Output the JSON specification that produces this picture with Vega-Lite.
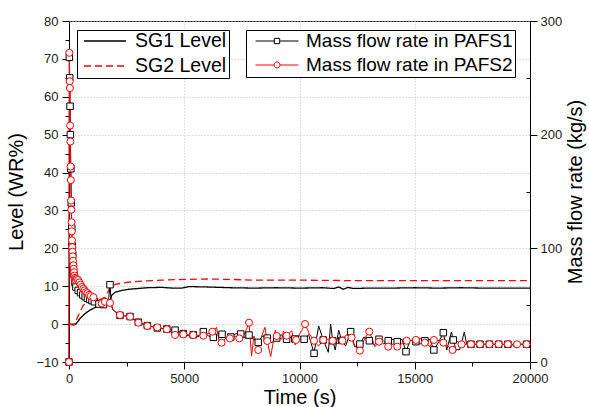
{
  "$schema": "https://vega.github.io/schema/vega-lite/v6.json",
  "width": 461,
  "height": 341,
  "autosize": {"type": "none"},
  "padding": {"left": 69, "top": 21, "right": 59, "bottom": 45},
  "background": "white",
  "config": {
    "view": {"stroke": "black", "strokeWidth": 1},
    "font": "Liberation Sans",
    "axis": {
      "labelFont": "Liberation Sans", "titleFont": "Liberation Sans",
      "labelFontSize": 13, "titleFontSize": 20, "titleFontWeight": "normal",
      "labelColor": "#222", "titleColor": "black",
      "domainColor": "black", "tickColor": "black", "domainWidth": 1, "tickWidth": 1,
      "gridColor": "#c0c0c0", "gridDash": [1, 2], "labelOverlap": false, "labelFlush": false
    },
    "legend": {
      "labelFont": "Liberation Sans", "labelFontSize": 19.5, "labelColor": "black", "labelLimit": 400,
      "strokeColor": "black", "fillColor": "white", "padding": 2, "orient": "none"
    }
  },
  "datasets": {
    "levels": [
      {"t": 0, "level": 0, "sg": "SG1 Level"}, {"t": 300, "level": 0, "sg": "SG1 Level"},
      {"t": 480, "level": 1.5, "sg": "SG1 Level"}, {"t": 700, "level": 2.8, "sg": "SG1 Level"},
      {"t": 910, "level": 3.7, "sg": "SG1 Level"}, {"t": 1100, "level": 4.3, "sg": "SG1 Level"},
      {"t": 1345, "level": 4.9, "sg": "SG1 Level"}, {"t": 1550, "level": 5.2, "sg": "SG1 Level"},
      {"t": 1750, "level": 5.4, "sg": "SG1 Level"}, {"t": 1850, "level": 7.6, "sg": "SG1 Level"},
      {"t": 2000, "level": 8.4, "sg": "SG1 Level"}, {"t": 2300, "level": 8.9, "sg": "SG1 Level"},
      {"t": 2600, "level": 9.2, "sg": "SG1 Level"}, {"t": 3000, "level": 9.4, "sg": "SG1 Level"},
      {"t": 3400, "level": 9.6, "sg": "SG1 Level"}, {"t": 4000, "level": 9.7, "sg": "SG1 Level"},
      {"t": 4500, "level": 9.5, "sg": "SG1 Level"}, {"t": 4900, "level": 9.5, "sg": "SG1 Level"},
      {"t": 5200, "level": 9.9, "sg": "SG1 Level"}, {"t": 6000, "level": 9.8, "sg": "SG1 Level"},
      {"t": 7000, "level": 9.6, "sg": "SG1 Level"}, {"t": 8000, "level": 9.5, "sg": "SG1 Level"},
      {"t": 9000, "level": 9.6, "sg": "SG1 Level"}, {"t": 10000, "level": 9.5, "sg": "SG1 Level"},
      {"t": 11000, "level": 9.6, "sg": "SG1 Level"}, {"t": 11500, "level": 9.4, "sg": "SG1 Level"},
      {"t": 11700, "level": 9.8, "sg": "SG1 Level"}, {"t": 11900, "level": 9.2, "sg": "SG1 Level"},
      {"t": 12100, "level": 9.7, "sg": "SG1 Level"}, {"t": 12300, "level": 9.4, "sg": "SG1 Level"},
      {"t": 13000, "level": 9.5, "sg": "SG1 Level"}, {"t": 14000, "level": 9.5, "sg": "SG1 Level"},
      {"t": 15000, "level": 9.6, "sg": "SG1 Level"}, {"t": 16000, "level": 9.5, "sg": "SG1 Level"},
      {"t": 17000, "level": 9.6, "sg": "SG1 Level"}, {"t": 18000, "level": 9.5, "sg": "SG1 Level"},
      {"t": 19000, "level": 9.5, "sg": "SG1 Level"}, {"t": 20000, "level": 9.5, "sg": "SG1 Level"},
      {"t": 0, "level": 0, "sg": "SG2 Level"}, {"t": 220, "level": -0.3, "sg": "SG2 Level"},
      {"t": 400, "level": 2.2, "sg": "SG2 Level"}, {"t": 620, "level": 5.0, "sg": "SG2 Level"},
      {"t": 770, "level": 5.5, "sg": "SG2 Level"}, {"t": 1000, "level": 6.0, "sg": "SG2 Level"},
      {"t": 1345, "level": 6.5, "sg": "SG2 Level"}, {"t": 1600, "level": 7.2, "sg": "SG2 Level"},
      {"t": 1780, "level": 9.8, "sg": "SG2 Level"}, {"t": 2000, "level": 10.5, "sg": "SG2 Level"},
      {"t": 2500, "level": 11.0, "sg": "SG2 Level"}, {"t": 3000, "level": 11.3, "sg": "SG2 Level"},
      {"t": 4000, "level": 11.6, "sg": "SG2 Level"}, {"t": 5000, "level": 11.8, "sg": "SG2 Level"},
      {"t": 6000, "level": 11.9, "sg": "SG2 Level"}, {"t": 7000, "level": 11.8, "sg": "SG2 Level"},
      {"t": 8000, "level": 11.6, "sg": "SG2 Level"}, {"t": 10000, "level": 11.6, "sg": "SG2 Level"},
      {"t": 12000, "level": 11.5, "sg": "SG2 Level"}, {"t": 14000, "level": 11.5, "sg": "SG2 Level"},
      {"t": 16000, "level": 11.5, "sg": "SG2 Level"}, {"t": 18000, "level": 11.5, "sg": "SG2 Level"},
      {"t": 20000, "level": 11.5, "sg": "SG2 Level"}
    ],
    "flow": [
      {"t": 0, "flow": 0, "series": "Mass flow rate in PAFS1"},
      {"t": 15, "flow": 268, "series": "Mass flow rate in PAFS1"},
      {"t": 30, "flow": 250, "series": "Mass flow rate in PAFS1"},
      {"t": 45, "flow": 225, "series": "Mass flow rate in PAFS1"},
      {"t": 60, "flow": 200, "series": "Mass flow rate in PAFS1"},
      {"t": 80, "flow": 170, "series": "Mass flow rate in PAFS1"},
      {"t": 100, "flow": 140, "series": "Mass flow rate in PAFS1"},
      {"t": 120, "flow": 118, "series": "Mass flow rate in PAFS1"},
      {"t": 140, "flow": 102, "series": "Mass flow rate in PAFS1"},
      {"t": 160, "flow": 94, "series": "Mass flow rate in PAFS1"},
      {"t": 190, "flow": 84, "series": "Mass flow rate in PAFS1"},
      {"t": 220, "flow": 77, "series": "Mass flow rate in PAFS1"},
      {"t": 260, "flow": 70, "series": "Mass flow rate in PAFS1"},
      {"t": 300, "flow": 66, "series": "Mass flow rate in PAFS1"},
      {"t": 400, "flow": 63, "series": "Mass flow rate in PAFS1"},
      {"t": 500, "flow": 61, "series": "Mass flow rate in PAFS1"},
      {"t": 600, "flow": 59, "series": "Mass flow rate in PAFS1"},
      {"t": 700, "flow": 57.5, "series": "Mass flow rate in PAFS1"},
      {"t": 800, "flow": 56, "series": "Mass flow rate in PAFS1"},
      {"t": 900, "flow": 55, "series": "Mass flow rate in PAFS1"},
      {"t": 1000, "flow": 54, "series": "Mass flow rate in PAFS1"},
      {"t": 1100, "flow": 53, "series": "Mass flow rate in PAFS1"},
      {"t": 1300, "flow": 51, "series": "Mass flow rate in PAFS1"},
      {"t": 1500, "flow": 50.5, "series": "Mass flow rate in PAFS1"},
      {"t": 1700, "flow": 51, "series": "Mass flow rate in PAFS1"},
      {"t": 1780, "flow": 68, "series": "Mass flow rate in PAFS1"},
      {"t": 1830, "flow": 52, "series": "Mass flow rate in PAFS1"},
      {"t": 1900, "flow": 46, "series": "Mass flow rate in PAFS1"},
      {"t": 2210, "flow": 41, "series": "Mass flow rate in PAFS1"},
      {"t": 2650, "flow": 40, "series": "Mass flow rate in PAFS1"},
      {"t": 3010, "flow": 35, "series": "Mass flow rate in PAFS1"},
      {"t": 3400, "flow": 32, "series": "Mass flow rate in PAFS1"},
      {"t": 3830, "flow": 30, "series": "Mass flow rate in PAFS1"},
      {"t": 4240, "flow": 29, "series": "Mass flow rate in PAFS1"},
      {"t": 4600, "flow": 28, "series": "Mass flow rate in PAFS1"},
      {"t": 4960, "flow": 25, "series": "Mass flow rate in PAFS1"},
      {"t": 5200, "flow": 23, "series": "Mass flow rate in PAFS1"},
      {"t": 5390, "flow": 24, "series": "Mass flow rate in PAFS1"},
      {"t": 5600, "flow": 22, "series": "Mass flow rate in PAFS1"},
      {"t": 5830, "flow": 26.7, "series": "Mass flow rate in PAFS1"},
      {"t": 6050, "flow": 23, "series": "Mass flow rate in PAFS1"},
      {"t": 6260, "flow": 21.7, "series": "Mass flow rate in PAFS1"},
      {"t": 6450, "flow": 25, "series": "Mass flow rate in PAFS1"},
      {"t": 6640, "flow": 24.4, "series": "Mass flow rate in PAFS1"},
      {"t": 6820, "flow": 20, "series": "Mass flow rate in PAFS1"},
      {"t": 7020, "flow": 22, "series": "Mass flow rate in PAFS1"},
      {"t": 7250, "flow": 25, "series": "Mass flow rate in PAFS1"},
      {"t": 7450, "flow": 24.6, "series": "Mass flow rate in PAFS1"},
      {"t": 7650, "flow": 21, "series": "Mass flow rate in PAFS1"},
      {"t": 7810, "flow": 23.7, "series": "Mass flow rate in PAFS1"},
      {"t": 8000, "flow": 20, "series": "Mass flow rate in PAFS1"},
      {"t": 8210, "flow": 17.3, "series": "Mass flow rate in PAFS1"},
      {"t": 8400, "flow": 23, "series": "Mass flow rate in PAFS1"},
      {"t": 8600, "flow": 21, "series": "Mass flow rate in PAFS1"},
      {"t": 8800, "flow": 17, "series": "Mass flow rate in PAFS1"},
      {"t": 9010, "flow": 21.1, "series": "Mass flow rate in PAFS1"},
      {"t": 9200, "flow": 24, "series": "Mass flow rate in PAFS1"},
      {"t": 9440, "flow": 20, "series": "Mass flow rate in PAFS1"},
      {"t": 9650, "flow": 22, "series": "Mass flow rate in PAFS1"},
      {"t": 9800, "flow": 20.2, "series": "Mass flow rate in PAFS1"},
      {"t": 10000, "flow": 23, "series": "Mass flow rate in PAFS1"},
      {"t": 10200, "flow": 20, "series": "Mass flow rate in PAFS1"},
      {"t": 10400, "flow": 24, "series": "Mass flow rate in PAFS1"},
      {"t": 10630, "flow": 7.6, "series": "Mass flow rate in PAFS1"},
      {"t": 10830, "flow": 31.7, "series": "Mass flow rate in PAFS1"},
      {"t": 11030, "flow": 19.4, "series": "Mass flow rate in PAFS1"},
      {"t": 11250, "flow": 8.5, "series": "Mass flow rate in PAFS1"},
      {"t": 11350, "flow": 33.4, "series": "Mass flow rate in PAFS1"},
      {"t": 11440, "flow": 18.7, "series": "Mass flow rate in PAFS1"},
      {"t": 11550, "flow": 10.6, "series": "Mass flow rate in PAFS1"},
      {"t": 11700, "flow": 28, "series": "Mass flow rate in PAFS1"},
      {"t": 11830, "flow": 19, "series": "Mass flow rate in PAFS1"},
      {"t": 12000, "flow": 14, "series": "Mass flow rate in PAFS1"},
      {"t": 12220, "flow": 26.7, "series": "Mass flow rate in PAFS1"},
      {"t": 12390, "flow": 13.5, "series": "Mass flow rate in PAFS1"},
      {"t": 12620, "flow": 15.8, "series": "Mass flow rate in PAFS1"},
      {"t": 12800, "flow": 22, "series": "Mass flow rate in PAFS1"},
      {"t": 13030, "flow": 18.7, "series": "Mass flow rate in PAFS1"},
      {"t": 13250, "flow": 15, "series": "Mass flow rate in PAFS1"},
      {"t": 13450, "flow": 20, "series": "Mass flow rate in PAFS1"},
      {"t": 13650, "flow": 16, "series": "Mass flow rate in PAFS1"},
      {"t": 13850, "flow": 18.7, "series": "Mass flow rate in PAFS1"},
      {"t": 14050, "flow": 20, "series": "Mass flow rate in PAFS1"},
      {"t": 14240, "flow": 17.9, "series": "Mass flow rate in PAFS1"},
      {"t": 14450, "flow": 20, "series": "Mass flow rate in PAFS1"},
      {"t": 14620, "flow": 9.1, "series": "Mass flow rate in PAFS1"},
      {"t": 14800, "flow": 19, "series": "Mass flow rate in PAFS1"},
      {"t": 15050, "flow": 17.9, "series": "Mass flow rate in PAFS1"},
      {"t": 15250, "flow": 16, "series": "Mass flow rate in PAFS1"},
      {"t": 15440, "flow": 18.7, "series": "Mass flow rate in PAFS1"},
      {"t": 15650, "flow": 20, "series": "Mass flow rate in PAFS1"},
      {"t": 15830, "flow": 10.6, "series": "Mass flow rate in PAFS1"},
      {"t": 16050, "flow": 18, "series": "Mass flow rate in PAFS1"},
      {"t": 16240, "flow": 25.8, "series": "Mass flow rate in PAFS1"},
      {"t": 16390, "flow": 10.6, "series": "Mass flow rate in PAFS1"},
      {"t": 16590, "flow": 26.4, "series": "Mass flow rate in PAFS1"},
      {"t": 16670, "flow": 19.4, "series": "Mass flow rate in PAFS1"},
      {"t": 16790, "flow": 10.6, "series": "Mass flow rate in PAFS1"},
      {"t": 16950, "flow": 11, "series": "Mass flow rate in PAFS1"},
      {"t": 17150, "flow": 26.4, "series": "Mass flow rate in PAFS1"},
      {"t": 17250, "flow": 15.5, "series": "Mass flow rate in PAFS1"},
      {"t": 17440, "flow": 15.6, "series": "Mass flow rate in PAFS1"},
      {"t": 19200, "flow": 15.6, "series": "Mass flow rate in PAFS1"},
      {"t": 19400, "flow": 12.3, "series": "Mass flow rate in PAFS1"},
      {"t": 19550, "flow": 15.6, "series": "Mass flow rate in PAFS1"},
      {"t": 20000, "flow": 15.6, "series": "Mass flow rate in PAFS1"},
      {"t": 0, "flow": 0, "series": "Mass flow rate in PAFS2"},
      {"t": 15, "flow": 272, "series": "Mass flow rate in PAFS2"},
      {"t": 30, "flow": 247, "series": "Mass flow rate in PAFS2"},
      {"t": 40, "flow": 241, "series": "Mass flow rate in PAFS2"},
      {"t": 50, "flow": 208, "series": "Mass flow rate in PAFS2"},
      {"t": 60, "flow": 194, "series": "Mass flow rate in PAFS2"},
      {"t": 70, "flow": 172, "series": "Mass flow rate in PAFS2"},
      {"t": 80, "flow": 160, "series": "Mass flow rate in PAFS2"},
      {"t": 90, "flow": 142, "series": "Mass flow rate in PAFS2"},
      {"t": 100, "flow": 134, "series": "Mass flow rate in PAFS2"},
      {"t": 110, "flow": 123, "series": "Mass flow rate in PAFS2"},
      {"t": 120, "flow": 115, "series": "Mass flow rate in PAFS2"},
      {"t": 130, "flow": 107, "series": "Mass flow rate in PAFS2"},
      {"t": 140, "flow": 101, "series": "Mass flow rate in PAFS2"},
      {"t": 150, "flow": 97, "series": "Mass flow rate in PAFS2"},
      {"t": 160, "flow": 93, "series": "Mass flow rate in PAFS2"},
      {"t": 175, "flow": 89, "series": "Mass flow rate in PAFS2"},
      {"t": 190, "flow": 85, "series": "Mass flow rate in PAFS2"},
      {"t": 205, "flow": 82, "series": "Mass flow rate in PAFS2"},
      {"t": 220, "flow": 79, "series": "Mass flow rate in PAFS2"},
      {"t": 240, "flow": 76, "series": "Mass flow rate in PAFS2"},
      {"t": 260, "flow": 74, "series": "Mass flow rate in PAFS2"},
      {"t": 280, "flow": 73, "series": "Mass flow rate in PAFS2"},
      {"t": 300, "flow": 72, "series": "Mass flow rate in PAFS2"},
      {"t": 350, "flow": 73, "series": "Mass flow rate in PAFS2"},
      {"t": 400, "flow": 72, "series": "Mass flow rate in PAFS2"},
      {"t": 450, "flow": 70, "series": "Mass flow rate in PAFS2"},
      {"t": 500, "flow": 68, "series": "Mass flow rate in PAFS2"},
      {"t": 560, "flow": 66, "series": "Mass flow rate in PAFS2"},
      {"t": 620, "flow": 64.5, "series": "Mass flow rate in PAFS2"},
      {"t": 680, "flow": 63, "series": "Mass flow rate in PAFS2"},
      {"t": 740, "flow": 61.5, "series": "Mass flow rate in PAFS2"},
      {"t": 800, "flow": 60.5, "series": "Mass flow rate in PAFS2"},
      {"t": 870, "flow": 59, "series": "Mass flow rate in PAFS2"},
      {"t": 940, "flow": 58, "series": "Mass flow rate in PAFS2"},
      {"t": 1000, "flow": 57.5, "series": "Mass flow rate in PAFS2"},
      {"t": 1060, "flow": 57, "series": "Mass flow rate in PAFS2"},
      {"t": 1200, "flow": 54, "series": "Mass flow rate in PAFS2"},
      {"t": 1420, "flow": 51.6, "series": "Mass flow rate in PAFS2"},
      {"t": 1560, "flow": 53, "series": "Mass flow rate in PAFS2"},
      {"t": 1700, "flow": 52, "series": "Mass flow rate in PAFS2"},
      {"t": 1780, "flow": 52, "series": "Mass flow rate in PAFS2"},
      {"t": 1900, "flow": 46, "series": "Mass flow rate in PAFS2"},
      {"t": 2210, "flow": 41.3, "series": "Mass flow rate in PAFS2"},
      {"t": 2650, "flow": 39.9, "series": "Mass flow rate in PAFS2"},
      {"t": 3010, "flow": 34.6, "series": "Mass flow rate in PAFS2"},
      {"t": 3400, "flow": 31.7, "series": "Mass flow rate in PAFS2"},
      {"t": 3830, "flow": 30.5, "series": "Mass flow rate in PAFS2"},
      {"t": 4240, "flow": 28.8, "series": "Mass flow rate in PAFS2"},
      {"t": 4600, "flow": 23.8, "series": "Mass flow rate in PAFS2"},
      {"t": 4960, "flow": 24.3, "series": "Mass flow rate in PAFS2"},
      {"t": 5390, "flow": 23.7, "series": "Mass flow rate in PAFS2"},
      {"t": 5830, "flow": 23.1, "series": "Mass flow rate in PAFS2"},
      {"t": 6220, "flow": 26.7, "series": "Mass flow rate in PAFS2"},
      {"t": 6400, "flow": 30.5, "series": "Mass flow rate in PAFS2"},
      {"t": 6520, "flow": 17.9, "series": "Mass flow rate in PAFS2"},
      {"t": 6620, "flow": 17, "series": "Mass flow rate in PAFS2"},
      {"t": 6840, "flow": 21.7, "series": "Mass flow rate in PAFS2"},
      {"t": 6980, "flow": 20.8, "series": "Mass flow rate in PAFS2"},
      {"t": 7130, "flow": 23, "series": "Mass flow rate in PAFS2"},
      {"t": 7390, "flow": 20.8, "series": "Mass flow rate in PAFS2"},
      {"t": 7600, "flow": 24, "series": "Mass flow rate in PAFS2"},
      {"t": 7810, "flow": 34.6, "series": "Mass flow rate in PAFS2"},
      {"t": 7920, "flow": 5.3, "series": "Mass flow rate in PAFS2"},
      {"t": 8020, "flow": 22.9, "series": "Mass flow rate in PAFS2"},
      {"t": 8210, "flow": 10.6, "series": "Mass flow rate in PAFS2"},
      {"t": 8290, "flow": 19, "series": "Mass flow rate in PAFS2"},
      {"t": 8500, "flow": 30.5, "series": "Mass flow rate in PAFS2"},
      {"t": 8600, "flow": 18.5, "series": "Mass flow rate in PAFS2"},
      {"t": 8750, "flow": 4.7, "series": "Mass flow rate in PAFS2"},
      {"t": 8950, "flow": 28, "series": "Mass flow rate in PAFS2"},
      {"t": 9010, "flow": 22.9, "series": "Mass flow rate in PAFS2"},
      {"t": 9230, "flow": 20, "series": "Mass flow rate in PAFS2"},
      {"t": 9300, "flow": 27, "series": "Mass flow rate in PAFS2"},
      {"t": 9440, "flow": 23.1, "series": "Mass flow rate in PAFS2"},
      {"t": 9660, "flow": 27.5, "series": "Mass flow rate in PAFS2"},
      {"t": 9810, "flow": 15, "series": "Mass flow rate in PAFS2"},
      {"t": 9850, "flow": 19.4, "series": "Mass flow rate in PAFS2"},
      {"t": 10100, "flow": 27.8, "series": "Mass flow rate in PAFS2"},
      {"t": 10240, "flow": 33.4, "series": "Mass flow rate in PAFS2"},
      {"t": 10420, "flow": 25, "series": "Mass flow rate in PAFS2"},
      {"t": 10630, "flow": 18.7, "series": "Mass flow rate in PAFS2"},
      {"t": 10830, "flow": 14, "series": "Mass flow rate in PAFS2"},
      {"t": 11030, "flow": 19.4, "series": "Mass flow rate in PAFS2"},
      {"t": 11250, "flow": 20, "series": "Mass flow rate in PAFS2"},
      {"t": 11440, "flow": 18.7, "series": "Mass flow rate in PAFS2"},
      {"t": 11610, "flow": 16, "series": "Mass flow rate in PAFS2"},
      {"t": 11860, "flow": 18.7, "series": "Mass flow rate in PAFS2"},
      {"t": 12030, "flow": 24, "series": "Mass flow rate in PAFS2"},
      {"t": 12260, "flow": 21.4, "series": "Mass flow rate in PAFS2"},
      {"t": 12390, "flow": 14, "series": "Mass flow rate in PAFS2"},
      {"t": 12620, "flow": 10, "series": "Mass flow rate in PAFS2"},
      {"t": 12840, "flow": 21, "series": "Mass flow rate in PAFS2"},
      {"t": 13030, "flow": 26.7, "series": "Mass flow rate in PAFS2"},
      {"t": 13270, "flow": 13.5, "series": "Mass flow rate in PAFS2"},
      {"t": 13450, "flow": 17.9, "series": "Mass flow rate in PAFS2"},
      {"t": 13630, "flow": 19, "series": "Mass flow rate in PAFS2"},
      {"t": 13850, "flow": 13.5, "series": "Mass flow rate in PAFS2"},
      {"t": 14070, "flow": 16, "series": "Mass flow rate in PAFS2"},
      {"t": 14240, "flow": 13.5, "series": "Mass flow rate in PAFS2"},
      {"t": 14650, "flow": 18.7, "series": "Mass flow rate in PAFS2"},
      {"t": 14860, "flow": 19, "series": "Mass flow rate in PAFS2"},
      {"t": 15050, "flow": 19.4, "series": "Mass flow rate in PAFS2"},
      {"t": 15230, "flow": 21, "series": "Mass flow rate in PAFS2"},
      {"t": 15440, "flow": 17, "series": "Mass flow rate in PAFS2"},
      {"t": 15660, "flow": 13.5, "series": "Mass flow rate in PAFS2"},
      {"t": 15830, "flow": 19.4, "series": "Mass flow rate in PAFS2"},
      {"t": 16020, "flow": 19, "series": "Mass flow rate in PAFS2"},
      {"t": 16240, "flow": 17, "series": "Mass flow rate in PAFS2"},
      {"t": 16430, "flow": 14, "series": "Mass flow rate in PAFS2"},
      {"t": 16640, "flow": 10.6, "series": "Mass flow rate in PAFS2"},
      {"t": 16800, "flow": 19, "series": "Mass flow rate in PAFS2"},
      {"t": 17030, "flow": 15.5, "series": "Mass flow rate in PAFS2"},
      {"t": 17440, "flow": 15.6, "series": "Mass flow rate in PAFS2"},
      {"t": 20000, "flow": 15.6, "series": "Mass flow rate in PAFS2"}
    ],
    "markers": [
      {"t": 0, "flow": 0, "series": "Mass flow rate in PAFS1"},
      {"t": 15, "flow": 268, "series": "Mass flow rate in PAFS1"},
      {"t": 30, "flow": 250, "series": "Mass flow rate in PAFS1"},
      {"t": 45, "flow": 225, "series": "Mass flow rate in PAFS1"},
      {"t": 60, "flow": 200, "series": "Mass flow rate in PAFS1"},
      {"t": 80, "flow": 170, "series": "Mass flow rate in PAFS1"},
      {"t": 100, "flow": 140, "series": "Mass flow rate in PAFS1"},
      {"t": 120, "flow": 118, "series": "Mass flow rate in PAFS1"},
      {"t": 140, "flow": 102, "series": "Mass flow rate in PAFS1"},
      {"t": 160, "flow": 94, "series": "Mass flow rate in PAFS1"},
      {"t": 190, "flow": 84, "series": "Mass flow rate in PAFS1"},
      {"t": 220, "flow": 77, "series": "Mass flow rate in PAFS1"},
      {"t": 260, "flow": 70, "series": "Mass flow rate in PAFS1"},
      {"t": 300, "flow": 66, "series": "Mass flow rate in PAFS1"},
      {"t": 400, "flow": 63, "series": "Mass flow rate in PAFS1"},
      {"t": 500, "flow": 61, "series": "Mass flow rate in PAFS1"},
      {"t": 600, "flow": 59, "series": "Mass flow rate in PAFS1"},
      {"t": 700, "flow": 57.5, "series": "Mass flow rate in PAFS1"},
      {"t": 800, "flow": 56, "series": "Mass flow rate in PAFS1"},
      {"t": 900, "flow": 55, "series": "Mass flow rate in PAFS1"},
      {"t": 1000, "flow": 54, "series": "Mass flow rate in PAFS1"},
      {"t": 1100, "flow": 53, "series": "Mass flow rate in PAFS1"},
      {"t": 1300, "flow": 51, "series": "Mass flow rate in PAFS1"},
      {"t": 1500, "flow": 50.5, "series": "Mass flow rate in PAFS1"},
      {"t": 1780, "flow": 68, "series": "Mass flow rate in PAFS1"},
      {"t": 2210, "flow": 41, "series": "Mass flow rate in PAFS1"},
      {"t": 2650, "flow": 40, "series": "Mass flow rate in PAFS1"},
      {"t": 3010, "flow": 35, "series": "Mass flow rate in PAFS1"},
      {"t": 3400, "flow": 32, "series": "Mass flow rate in PAFS1"},
      {"t": 3830, "flow": 30, "series": "Mass flow rate in PAFS1"},
      {"t": 4240, "flow": 29, "series": "Mass flow rate in PAFS1"},
      {"t": 4600, "flow": 28, "series": "Mass flow rate in PAFS1"},
      {"t": 4960, "flow": 25, "series": "Mass flow rate in PAFS1"},
      {"t": 5390, "flow": 24, "series": "Mass flow rate in PAFS1"},
      {"t": 5830, "flow": 26.7, "series": "Mass flow rate in PAFS1"},
      {"t": 6260, "flow": 21.7, "series": "Mass flow rate in PAFS1"},
      {"t": 6640, "flow": 24.4, "series": "Mass flow rate in PAFS1"},
      {"t": 7020, "flow": 22, "series": "Mass flow rate in PAFS1"},
      {"t": 7450, "flow": 24.6, "series": "Mass flow rate in PAFS1"},
      {"t": 7810, "flow": 23.7, "series": "Mass flow rate in PAFS1"},
      {"t": 8210, "flow": 17.3, "series": "Mass flow rate in PAFS1"},
      {"t": 8600, "flow": 21, "series": "Mass flow rate in PAFS1"},
      {"t": 9010, "flow": 21.1, "series": "Mass flow rate in PAFS1"},
      {"t": 9440, "flow": 20, "series": "Mass flow rate in PAFS1"},
      {"t": 9800, "flow": 20.2, "series": "Mass flow rate in PAFS1"},
      {"t": 10200, "flow": 20, "series": "Mass flow rate in PAFS1"},
      {"t": 10630, "flow": 7.6, "series": "Mass flow rate in PAFS1"},
      {"t": 11030, "flow": 19.4, "series": "Mass flow rate in PAFS1"},
      {"t": 11440, "flow": 18.7, "series": "Mass flow rate in PAFS1"},
      {"t": 11830, "flow": 19, "series": "Mass flow rate in PAFS1"},
      {"t": 12220, "flow": 26.7, "series": "Mass flow rate in PAFS1"},
      {"t": 12620, "flow": 15.8, "series": "Mass flow rate in PAFS1"},
      {"t": 13030, "flow": 18.7, "series": "Mass flow rate in PAFS1"},
      {"t": 13450, "flow": 20, "series": "Mass flow rate in PAFS1"},
      {"t": 13850, "flow": 18.7, "series": "Mass flow rate in PAFS1"},
      {"t": 14240, "flow": 17.9, "series": "Mass flow rate in PAFS1"},
      {"t": 14620, "flow": 9.1, "series": "Mass flow rate in PAFS1"},
      {"t": 15050, "flow": 17.9, "series": "Mass flow rate in PAFS1"},
      {"t": 15440, "flow": 18.7, "series": "Mass flow rate in PAFS1"},
      {"t": 15830, "flow": 10.6, "series": "Mass flow rate in PAFS1"},
      {"t": 16240, "flow": 25.8, "series": "Mass flow rate in PAFS1"},
      {"t": 16670, "flow": 19.4, "series": "Mass flow rate in PAFS1"},
      {"t": 17440, "flow": 15.6, "series": "Mass flow rate in PAFS1"},
      {"t": 17830, "flow": 15.6, "series": "Mass flow rate in PAFS1"},
      {"t": 18240, "flow": 15.6, "series": "Mass flow rate in PAFS1"},
      {"t": 18640, "flow": 15.6, "series": "Mass flow rate in PAFS1"},
      {"t": 19040, "flow": 15.6, "series": "Mass flow rate in PAFS1"},
      {"t": 19850, "flow": 15.6, "series": "Mass flow rate in PAFS1"},
      {"t": 0, "flow": 0, "series": "Mass flow rate in PAFS2"},
      {"t": 15, "flow": 272, "series": "Mass flow rate in PAFS2"},
      {"t": 30, "flow": 247, "series": "Mass flow rate in PAFS2"},
      {"t": 40, "flow": 241, "series": "Mass flow rate in PAFS2"},
      {"t": 50, "flow": 208, "series": "Mass flow rate in PAFS2"},
      {"t": 60, "flow": 194, "series": "Mass flow rate in PAFS2"},
      {"t": 70, "flow": 172, "series": "Mass flow rate in PAFS2"},
      {"t": 80, "flow": 160, "series": "Mass flow rate in PAFS2"},
      {"t": 90, "flow": 142, "series": "Mass flow rate in PAFS2"},
      {"t": 100, "flow": 134, "series": "Mass flow rate in PAFS2"},
      {"t": 110, "flow": 123, "series": "Mass flow rate in PAFS2"},
      {"t": 120, "flow": 115, "series": "Mass flow rate in PAFS2"},
      {"t": 130, "flow": 107, "series": "Mass flow rate in PAFS2"},
      {"t": 140, "flow": 101, "series": "Mass flow rate in PAFS2"},
      {"t": 150, "flow": 97, "series": "Mass flow rate in PAFS2"},
      {"t": 160, "flow": 93, "series": "Mass flow rate in PAFS2"},
      {"t": 175, "flow": 89, "series": "Mass flow rate in PAFS2"},
      {"t": 190, "flow": 85, "series": "Mass flow rate in PAFS2"},
      {"t": 205, "flow": 82, "series": "Mass flow rate in PAFS2"},
      {"t": 220, "flow": 79, "series": "Mass flow rate in PAFS2"},
      {"t": 240, "flow": 76, "series": "Mass flow rate in PAFS2"},
      {"t": 260, "flow": 74, "series": "Mass flow rate in PAFS2"},
      {"t": 280, "flow": 73, "series": "Mass flow rate in PAFS2"},
      {"t": 300, "flow": 72, "series": "Mass flow rate in PAFS2"},
      {"t": 350, "flow": 73, "series": "Mass flow rate in PAFS2"},
      {"t": 400, "flow": 72, "series": "Mass flow rate in PAFS2"},
      {"t": 450, "flow": 70, "series": "Mass flow rate in PAFS2"},
      {"t": 500, "flow": 68, "series": "Mass flow rate in PAFS2"},
      {"t": 560, "flow": 66, "series": "Mass flow rate in PAFS2"},
      {"t": 620, "flow": 64.5, "series": "Mass flow rate in PAFS2"},
      {"t": 680, "flow": 63, "series": "Mass flow rate in PAFS2"},
      {"t": 740, "flow": 61.5, "series": "Mass flow rate in PAFS2"},
      {"t": 800, "flow": 60.5, "series": "Mass flow rate in PAFS2"},
      {"t": 870, "flow": 59, "series": "Mass flow rate in PAFS2"},
      {"t": 940, "flow": 58, "series": "Mass flow rate in PAFS2"},
      {"t": 1060, "flow": 57, "series": "Mass flow rate in PAFS2"},
      {"t": 1420, "flow": 51.6, "series": "Mass flow rate in PAFS2"},
      {"t": 1560, "flow": 53, "series": "Mass flow rate in PAFS2"},
      {"t": 1780, "flow": 52, "series": "Mass flow rate in PAFS2"},
      {"t": 2210, "flow": 41.3, "series": "Mass flow rate in PAFS2"},
      {"t": 2650, "flow": 39.9, "series": "Mass flow rate in PAFS2"},
      {"t": 3010, "flow": 34.6, "series": "Mass flow rate in PAFS2"},
      {"t": 3400, "flow": 31.7, "series": "Mass flow rate in PAFS2"},
      {"t": 3830, "flow": 30.5, "series": "Mass flow rate in PAFS2"},
      {"t": 4240, "flow": 28.8, "series": "Mass flow rate in PAFS2"},
      {"t": 4600, "flow": 23.8, "series": "Mass flow rate in PAFS2"},
      {"t": 4960, "flow": 24.3, "series": "Mass flow rate in PAFS2"},
      {"t": 5390, "flow": 23.7, "series": "Mass flow rate in PAFS2"},
      {"t": 5830, "flow": 23.1, "series": "Mass flow rate in PAFS2"},
      {"t": 6220, "flow": 26.7, "series": "Mass flow rate in PAFS2"},
      {"t": 6620, "flow": 17, "series": "Mass flow rate in PAFS2"},
      {"t": 6980, "flow": 20.8, "series": "Mass flow rate in PAFS2"},
      {"t": 7390, "flow": 20.8, "series": "Mass flow rate in PAFS2"},
      {"t": 7810, "flow": 34.6, "series": "Mass flow rate in PAFS2"},
      {"t": 8210, "flow": 10.6, "series": "Mass flow rate in PAFS2"},
      {"t": 8600, "flow": 18.5, "series": "Mass flow rate in PAFS2"},
      {"t": 9010, "flow": 22.9, "series": "Mass flow rate in PAFS2"},
      {"t": 9440, "flow": 23.1, "series": "Mass flow rate in PAFS2"},
      {"t": 9850, "flow": 19.4, "series": "Mass flow rate in PAFS2"},
      {"t": 10240, "flow": 33.4, "series": "Mass flow rate in PAFS2"},
      {"t": 10630, "flow": 18.7, "series": "Mass flow rate in PAFS2"},
      {"t": 11030, "flow": 19.4, "series": "Mass flow rate in PAFS2"},
      {"t": 11440, "flow": 18.7, "series": "Mass flow rate in PAFS2"},
      {"t": 11860, "flow": 18.7, "series": "Mass flow rate in PAFS2"},
      {"t": 12260, "flow": 21.4, "series": "Mass flow rate in PAFS2"},
      {"t": 12620, "flow": 10, "series": "Mass flow rate in PAFS2"},
      {"t": 13030, "flow": 26.7, "series": "Mass flow rate in PAFS2"},
      {"t": 13450, "flow": 17.9, "series": "Mass flow rate in PAFS2"},
      {"t": 13850, "flow": 13.5, "series": "Mass flow rate in PAFS2"},
      {"t": 14240, "flow": 13.5, "series": "Mass flow rate in PAFS2"},
      {"t": 14650, "flow": 18.7, "series": "Mass flow rate in PAFS2"},
      {"t": 15050, "flow": 19.4, "series": "Mass flow rate in PAFS2"},
      {"t": 15440, "flow": 17, "series": "Mass flow rate in PAFS2"},
      {"t": 15830, "flow": 19.4, "series": "Mass flow rate in PAFS2"},
      {"t": 16240, "flow": 17, "series": "Mass flow rate in PAFS2"},
      {"t": 16640, "flow": 10.6, "series": "Mass flow rate in PAFS2"},
      {"t": 17030, "flow": 15.5, "series": "Mass flow rate in PAFS2"},
      {"t": 17440, "flow": 15.6, "series": "Mass flow rate in PAFS2"},
      {"t": 17830, "flow": 15.6, "series": "Mass flow rate in PAFS2"},
      {"t": 18240, "flow": 15.6, "series": "Mass flow rate in PAFS2"},
      {"t": 18640, "flow": 15.6, "series": "Mass flow rate in PAFS2"},
      {"t": 19040, "flow": 15.6, "series": "Mass flow rate in PAFS2"},
      {"t": 19440, "flow": 15.6, "series": "Mass flow rate in PAFS2"},
      {"t": 19850, "flow": 15.6, "series": "Mass flow rate in PAFS2"}
    ]
  },
  "encoding": {
    "x": {
      "field": "t", "type": "quantitative",
      "scale": {"domain": [0, 20000], "nice": false, "zero": false},
      "axis": {
        "title": "Time (s)", "format": "d",
        "values": [0, 2500, 5000, 7500, 10000, 12500, 15000, 17500, 20000],
        "labelExpr": "datum.value % 5000 === 0 ? datum.label : ''",
        "tickSize": {"condition": {"test": "datum.value % 5000 === 0", "value": 7}, "value": 4},
        "gridOpacity": {"condition": {"test": "datum.value % 5000 === 0", "value": 1}, "value": 0},
        "labelPadding": 3, "titlePadding": 2
      }
    }
  },
  "layer": [
    {
      "data": {"name": "levels"},
      "mark": {"type": "line", "strokeWidth": 1.3},
      "encoding": {
        "y": {
          "field": "level", "type": "quantitative",
          "scale": {"domain": [-10, 80], "nice": false, "zero": false},
          "axis": {
            "orient": "left", "title": "Level (WR%)",
            "values": [-10, -5, 0, 5, 10, 15, 20, 25, 30, 35, 40, 45, 50, 55, 60, 65, 70, 75, 80],
            "labelExpr": "datum.value % 10 === 0 ? datum.label : ''",
            "tickSize": {"condition": {"test": "datum.value % 10 === 0", "value": 7}, "value": 4},
            "gridOpacity": {"condition": {"test": "datum.value % 10 === 0", "value": 1}, "value": 0},
            "labelPadding": 4, "titlePadding": 9
          }
        },
        "color": {
          "field": "sg", "type": "nominal",
          "scale": {"domain": ["SG1 Level", "SG2 Level"], "range": ["#000000", "#ff0000"]},
          "legend": {"title": null, "orient": "none", "legendX": 8, "legendY": 9, "symbolType": "stroke", "symbolSize": 1764, "symbolStrokeWidth": 1.3, "clipHeight": 18, "rowPadding": 5, "labelOffset": 8, "symbolOffset": 4, "padding": 2}
        },
        "strokeDash": {
          "field": "sg", "type": "nominal",
          "scale": {"domain": ["SG1 Level", "SG2 Level"], "range": [[1, 0], [7, 4]]},
          "legend": {"title": null, "orient": "none", "legendX": 8, "legendY": 9, "symbolType": "stroke", "symbolSize": 1764, "symbolStrokeWidth": 1.3, "clipHeight": 18, "rowPadding": 5, "labelOffset": 8, "symbolOffset": 4, "padding": 2}
        }
      }
    },
    {
      "encoding": {
        "y": {
          "field": "flow", "type": "quantitative",
          "scale": {"domain": [0, 300], "nice": false, "zero": false},
          "axis": {
            "orient": "right", "title": "Mass flow rate (kg/s)", "grid": false,
            "values": [0, 50, 100, 150, 200, 250, 300],
            "labelExpr": "datum.value % 100 === 0 ? datum.label : ''",
            "tickSize": {"condition": {"test": "datum.value % 100 === 0", "value": 7}, "value": -4},
            "labelPadding": 3, "titlePadding": 4, "titleAngle": 270, "titleBaseline": "top"
          }
        },
        "color": {
          "field": "series", "type": "nominal",
          "scale": {"domain": ["Mass flow rate in PAFS1", "Mass flow rate in PAFS2"], "range": ["#000000", "#ff0000"]},
          "legend": {
            "title": null, "orient": "none", "legendX": 177, "legendY": 9,
            "symbolSize": 1849, "symbolStrokeWidth": 1, "clipHeight": 18, "rowPadding": 5,
            "labelOffset": 7, "symbolOffset": 7, "padding": 2, "symbolFillColor": "white", "labelLimit": 400, "labelFontSize": 19,
            "encode": {"symbols": {"update": {"shape": {"signal": "datum.value === 'Mass flow rate in PAFS1' ? 'M-1,0H-0.125M0.125,0H1M-0.125,-0.125H0.125V0.125H-0.125Z' : 'M-1,0H-0.14M0.14,0H1M0.14,0A0.14,0.14 0 1,1 -0.14,0A0.14,0.14 0 1,1 0.14,0Z'"}}}}
          }
        }
      },
      "layer": [
        {
          "data": {"name": "flow"},
          "mark": {"type": "line", "strokeWidth": 1}
        },
        {
          "data": {"name": "markers"},
          "transform": [{"filter": "datum.series === 'Mass flow rate in PAFS1'"}],
          "mark": {"type": "point", "shape": "square", "filled": false, "fill": "white", "size": 42, "strokeWidth": 1, "opacity": 1}
        },
        {
          "data": {"name": "markers"},
          "transform": [{"filter": "datum.series === 'Mass flow rate in PAFS2'"}],
          "mark": {"type": "point", "shape": "circle", "filled": false, "fill": "white", "size": 50, "strokeWidth": 1, "opacity": 1}
        }
      ]
    }
  ],
  "resolve": {
    "scale": {"y": "independent", "color": "independent", "strokeDash": "independent"},
    "legend": {"color": "independent"}
  }
}
